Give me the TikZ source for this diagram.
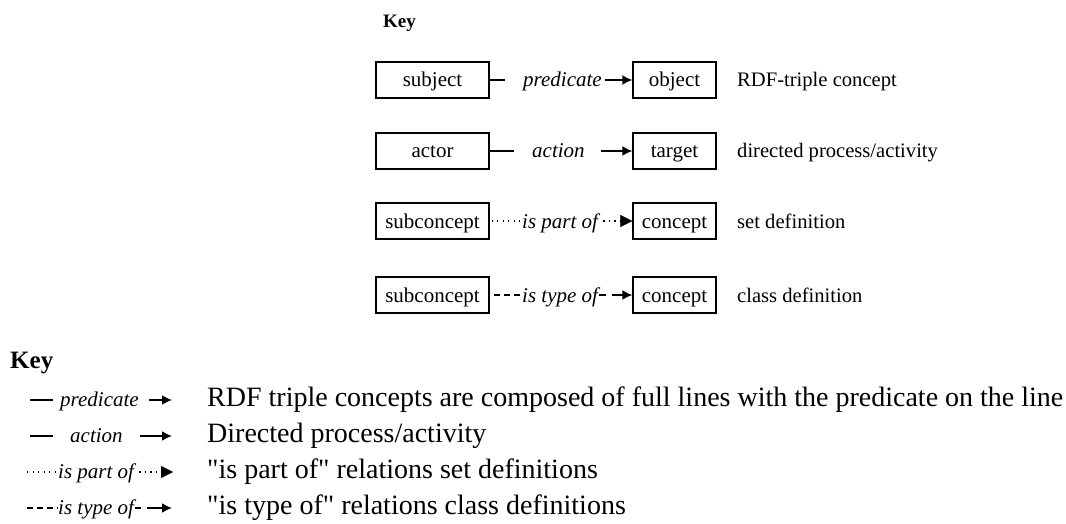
\documentclass[tikz,border=0pt]{standalone}
\usepackage{fontspec}
\setmainfont{Liberation Serif}
\usetikzlibrary{arrows.meta}
\font\qfnt="Liberation Serif" at 28pt
\newcommand{\sq}{{\qfnt\char34}}
\tikzset{
  box/.style={draw, line width=1.2pt, minimum width=113pt, minimum height=36pt, inner sep=0pt,
    font=\fontsize{21}{25}\selectfont, text height=18pt, text depth=4pt},
  rbox/.style={box, minimum width=83pt},
  lbl/.style={inner sep=0pt, anchor=base west, font=\fontsize{21}{25}\selectfont\itshape},
  desc/.style={inner sep=0pt, anchor=base west, font=\fontsize{20.6}{25}\selectfont},
  bdesc/.style={inner sep=0pt, anchor=base west, font=\fontsize{28}{32}\selectfont},
  keyt/.style={inner sep=0pt, anchor=base west, font=\bfseries},
  conn/.style={line width=1.4pt},
  dotl/.style={line width=1.3pt, dash pattern=on 1.3pt off 4.2pt},
  dashl/.style={line width=1.4pt, dash pattern=on 6pt off 4pt},
  arr/.style={line width=1.8pt, -{Latex[length=10pt,width=10pt]}},
  tri/.style={-{Triangle[length=12pt,width=12pt]}},
}
\begin{document}
\begin{tikzpicture}[x=1pt,y=-1pt]
\useasboundingbox (0,0) rectangle (1066,524);

% ---------- top key ----------
\node[keyt, font=\bfseries\fontsize{19}{22}\selectfont] (k0) at (383,28) {Key};

% row 1
\node[box]  (s1) at (432.5,80) {subject};
\node[rbox] (o1) at (674.5,80) {object};
\node[lbl]  (l1) at (523,87) {predicate};
\draw[conn] (s1.east) -- ([xshift=-18pt]l1.west |- s1.east);
\draw[arr]  ([xshift=3pt]l1.east |- o1.west) -- (o1.west);
\node[desc] (d1) at (737,87) {RDF-triple concept};

% row 2
\node[box]  (s2) at (432.5,151) {actor};
\node[rbox] (o2) at (674.5,151) {target};
\node[lbl]  (l2) at (532,158) {action};
\draw[conn] (s2.east) -- ([xshift=-18pt]l2.west |- s2.east);
\draw[arr]  ([xshift=16pt]l2.east |- o2.west) -- (o2.west);
\node[desc] (d2) at (737,158) {directed process/activity};

% row 3
\node[box]  (s3) at (432.5,221) {subconcept};
\node[rbox] (o3) at (674.5,221) {concept};
\node[lbl]  (l3) at (522,228) {is part of};
\draw[dotl] ([xshift=2pt]s3.east) -- (l3.west |- s3.east);
\draw[dotl] ([xshift=5pt]l3.east |- o3.west) -- ([xshift=-12pt]o3.west);
\draw[tri]  ([xshift=-12.5pt]o3.west) -- (o3.west);
\node[desc] (d3) at (737,228) {set definition};

% row 4
\node[box]  (s4) at (432.5,295) {subconcept};
\node[rbox] (o4) at (674.5,295) {concept};
\node[lbl]  (l4) at (522,302) {is type of};
\draw[dashl] ([xshift=4pt]s4.east) -- (l4.west |- s4.east);
\draw[conn] ([xshift=0.5pt]l4.east |- o4.west) -- ([xshift=8pt]l4.east |- o4.west);
\draw[arr]  ([xshift=14pt]l4.east |- o4.west) -- (o4.west);
\node[desc] (d4) at (737,302) {class definition};

% ---------- bottom key ----------
\node[keyt, font=\bfseries\fontsize{25}{30}\selectfont] (k1) at (10,368) {Key};

% row 1
\node[lbl] (m1) at (60,406) {predicate};
\coordinate (m1a) at (30,400);
\coordinate (m1b) at (172,400);
\draw[conn] (m1a) -- ([xshift=-7pt]m1.west |- m1a);
\draw[arr]  ([xshift=10pt]m1.east |- m1b) -- (m1b);
\node[bdesc] (e1) at (207,406) {RDF triple concepts are composed of full lines with the predicate on the line};

% row 2
\node[lbl] (m2) at (70,442) {action};
\coordinate (m2a) at (30,436);
\coordinate (m2b) at (172,436);
\draw[conn] (m2a) -- ([xshift=-17pt]m2.west |- m2a);
\draw[arr]  ([xshift=17pt]m2.east |- m2b) -- (m2b);
\node[bdesc] (e2) at (207,442) {Directed process/activity};

% row 3
\node[lbl] (m3) at (58,478) {is part of};
\coordinate (m3a) at (27,472);
\coordinate (m3b) at (173,472);
\draw[dotl] (m3a) -- (m3.west |- m3a);
\draw[dotl] ([xshift=5pt]m3.east |- m3b) -- ([xshift=-11pt]m3b);
\draw[tri]  ([xshift=-11.5pt]m3b) -- (m3b);
\node[bdesc] (e3) at (207,478) {\sq is part of\sq{} relations set definitions};

% row 4
\node[lbl] (m4) at (58,514) {is type of};
\coordinate (m4a) at (27,508);
\coordinate (m4b) at (172,508);
\draw[dashl] (m4a) -- (m4.west |- m4a);
\draw[conn] ([xshift=0.5pt]m4.east |- m4b) -- ([xshift=7pt]m4.east |- m4b);
\draw[arr]  ([xshift=13pt]m4.east |- m4b) -- (m4b);
\node[bdesc] (e4) at (207,514) {\sq is type of\sq{} relations class definitions};
\end{tikzpicture}
\end{document}
